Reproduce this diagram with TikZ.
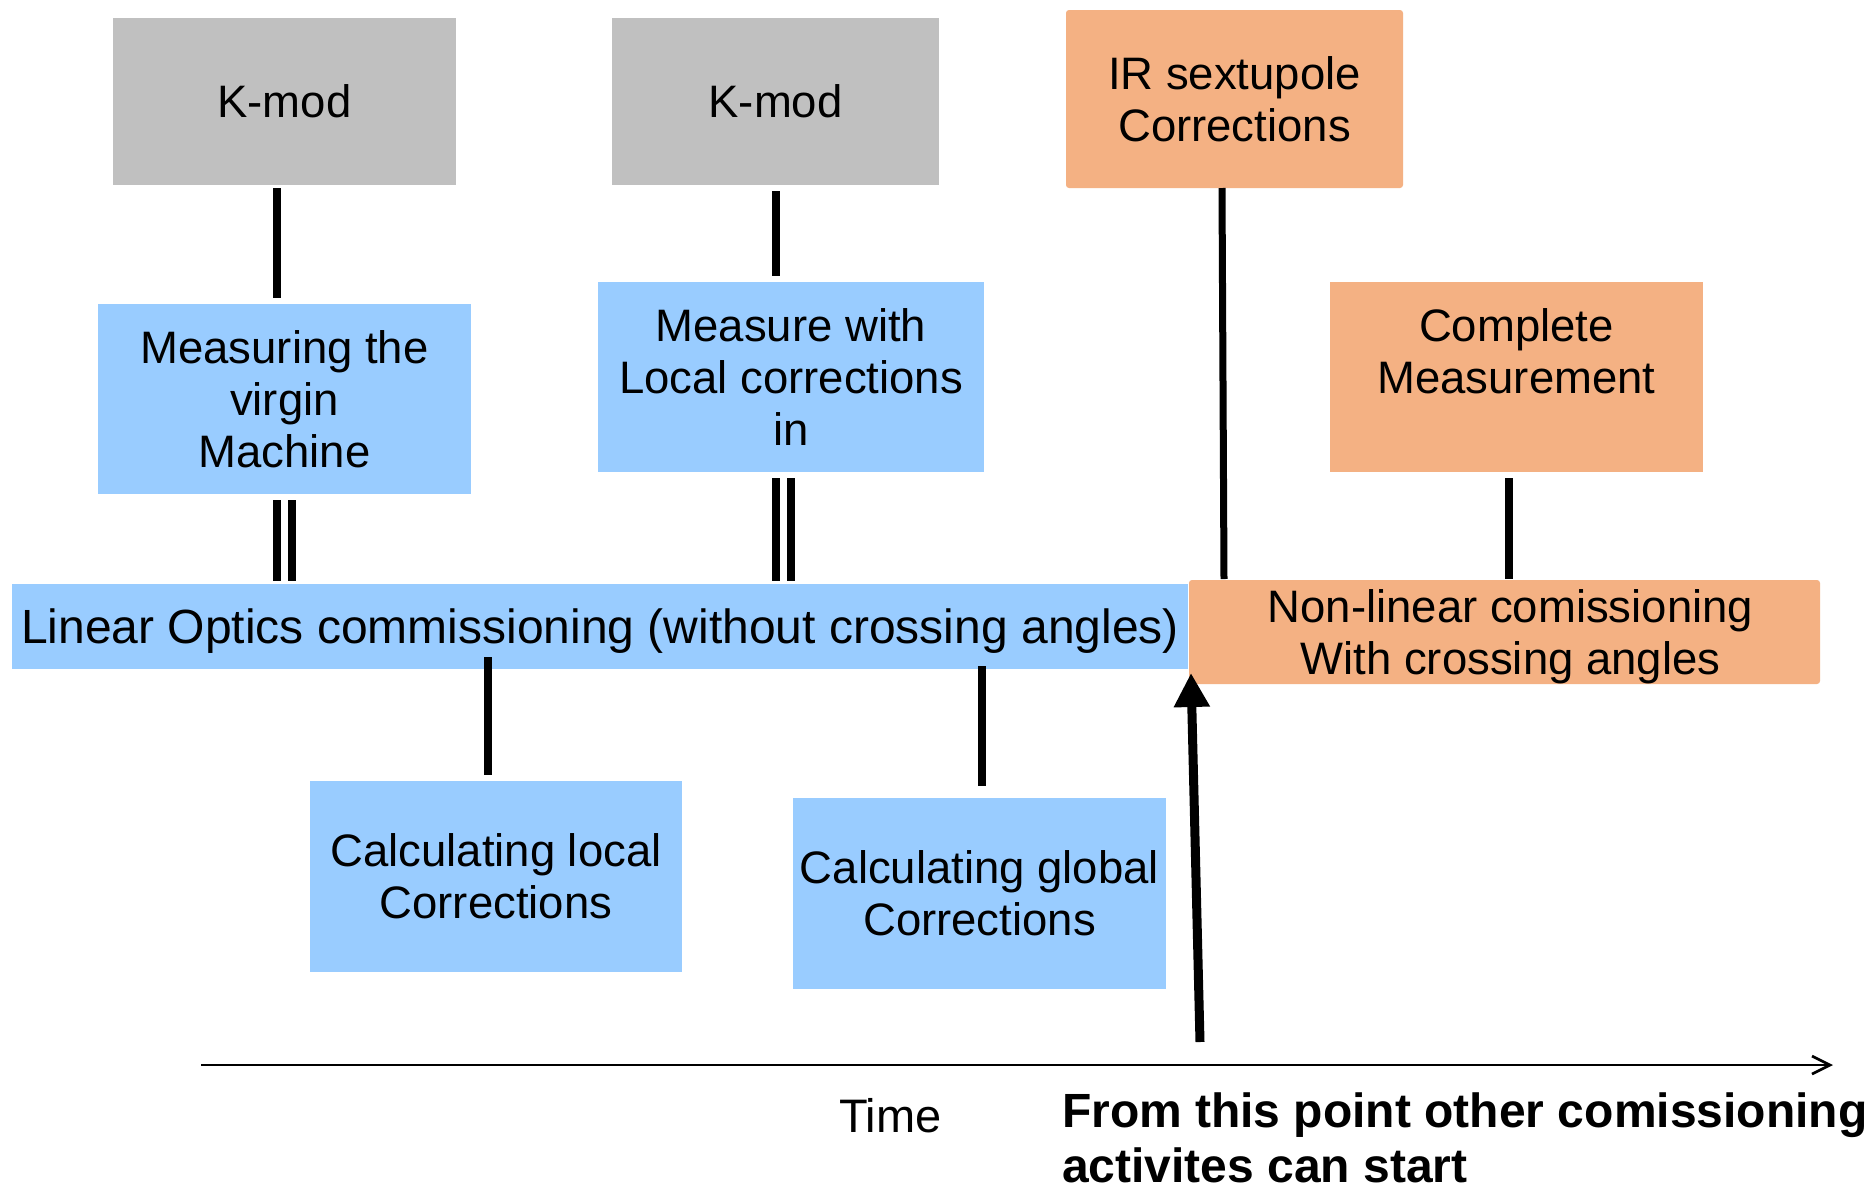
\documentclass[tikz,border=0pt]{standalone}
\usepackage{fontspec}
\setmainfont{Liberation Sans}
\usetikzlibrary{calc,arrows.meta}

\definecolor{kgray}{HTML}{C0C0C0}
\definecolor{lblue}{HTML}{99CCFF}
\definecolor{lorange}{HTML}{F4B183}

% line struts so that every line takes the same room and caps sit centred
\newcommand\lstrut{\rule[-9.7pt]{0pt}{52pt}}
\newcommand\bstrut{\rule[-8.8pt]{0pt}{52pt}}

\begin{document}
\begin{tikzpicture}[x=1pt,y=-1pt,
  box/.style={inner sep=0pt, outer sep=0pt, align=center,
    font=\fontsize{45.5pt}{52pt}\selectfont},
  kbox/.style={box, fill=kgray},
  bbox/.style={box, fill=lblue},
  obox/.style={box, fill=lorange},
  conn/.style={line width=8pt},
  axis/.style={line width=2.7pt, -{Straight Barb[length=18pt,width=18pt]}},
  bigarrow/.style={line width=9pt, -{Triangle[length=34pt,width=34pt]}},
  lbl/.style={inner sep=0pt, outer sep=0pt, anchor=base west}
]
\useasboundingbox[fill=white] (0,0) rectangle (1872,1189);

% measurement boxes
\node[kbox, minimum width=343pt, minimum height=167pt] (km1) at (284.5,101.5) {\lstrut K-mod};
\node[kbox, minimum width=327pt, minimum height=167pt] (km2) at (775.5,101.5) {\lstrut K-mod};
\node[obox, rounded corners=3pt, minimum width=337pt, minimum height=178pt] (ir) at (1234.5,99)
  {\lstrut IR sextupole\\\lstrut Corrections};

\node[bbox, minimum width=373pt, minimum height=190pt] (meas1) at (284.5,399)
  {\lstrut Measuring the\\\lstrut virgin\\\lstrut Machine};
\node[bbox, minimum width=386pt, minimum height=190pt] (meas2) at (791,377)
  {\lstrut Measure with\\\lstrut Local corrections\\\lstrut in};
\node[obox, minimum width=373pt, minimum height=190pt] (comp) at (1516.5,377)
  {\lstrut Complete\\\lstrut Measurement\\\lstrut};

% commissioning phases
\node[bbox, minimum width=1176pt, minimum height=85pt,
  font=\fontsize{48pt}{52pt}\selectfont] (bar) at (600,626.5)
  {\bstrut Linear Optics commissioning (without crossing angles)};
\node[obox, rounded corners=3pt, minimum width=631pt, minimum height=102pt] (nl) at (1504.5,632)
  {\lstrut\hspace{12pt}Non-linear comissioning\\\lstrut\hspace{12pt}With crossing angles};

% correction calculations
\node[bbox, minimum width=372pt, minimum height=191pt] (loc) at (496,876.5)
  {\lstrut Calculating local\\\lstrut Corrections};
\node[bbox, minimum width=373pt, minimum height=191pt] (glob) at (979.5,893.5)
  {\lstrut Calculating global\\\lstrut Corrections};

% connectors
\draw[conn] ($(km1.south)+(-7.5,3)$) -- ($(meas1.north)+(-7.5,-6)$);
\draw[conn] ($(meas1.south)+(-7.5,6)$) -- ($(bar.north)+(-323,-3)$);
\draw[conn] ($(meas1.south)+(7.5,6)$) -- ($(bar.north)+(-308,-3)$);

\draw[conn] ($(km2.south)+(0.5,6)$) -- ($(meas2.north)+(-15,-6)$);
\draw[conn] ($(meas2.south)+(-15.5,6)$) -- ($(bar.north)+(175.5,-3)$);
\draw[conn] ($(meas2.south)+(0,6)$) -- ($(bar.north)+(191,-3)$);

\draw[conn] ($(bar.south)+(-112,-12)$) -- ($(loc.north)+(-8,-6)$);
\draw[conn] ($(bar.south)+(382,-3)$) -- ($(glob.north)+(2.5,-12)$);

\draw[line width=7pt] ($(ir.south)+(-12.5,0)$) -- ($(nl.north)+(-280.5,-1)$);
\draw[conn] ($(comp.south)+(-7.5,6)$) -- ($(nl.north)+(4.5,-1)$);

% time axis
\coordinate (t0) at (201,1065);
\coordinate (t1) at (1833,1065);
\draw[axis] (t0) -- (t1);
\node[lbl, font=\fontsize{47pt}{52pt}\selectfont] (time) at (839,1132) {Time};

% start of the other activities
\coordinate (go) at (1200,1042);
\draw[bigarrow] (go) -- ($(nl.south west)+(2,-11)$);
\node[lbl, font=\fontsize{48pt}{55pt}\selectfont\bfseries] (note1) at (1062,1127)
  {From this point other comissioning};
\node[lbl, font=\fontsize{48pt}{55pt}\selectfont\bfseries] (note2) at (1062,1182)
  {activites can start};
\end{tikzpicture}
\end{document}
